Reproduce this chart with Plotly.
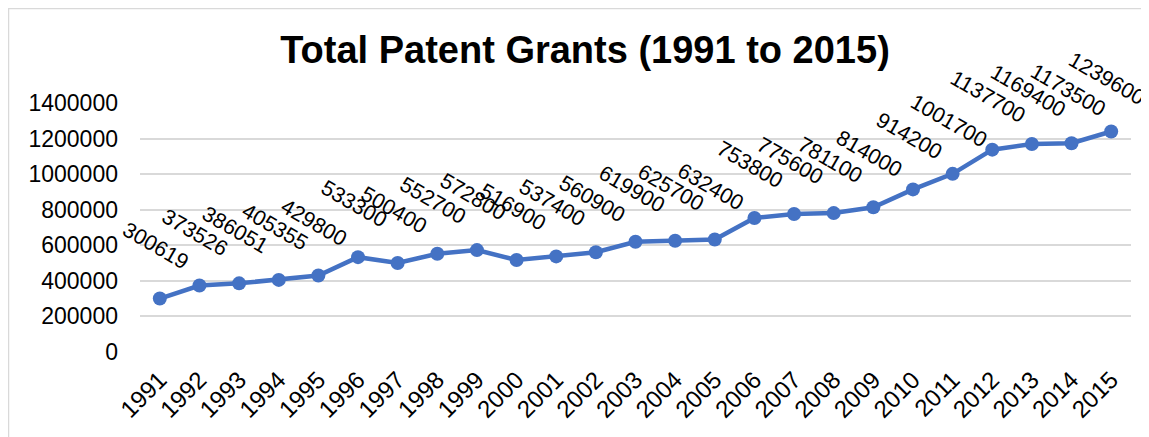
import plotly.graph_objects as go

years = [str(y) for y in range(1991, 2016)]
grants = [300619, 373526, 386051, 405355, 429800, 533300, 500400, 552700, 572800,
          516900, 537400, 560900, 619900, 625700, 632400, 753800, 775600, 781100,
          814000, 914200, 1001700, 1137700, 1169400, 1173500, 1239600]
y_ticks = [0, 200000, 400000, 600000, 800000, 1000000, 1200000, 1400000]

# page body has an 8px margin, so the figure starts at (8, 8)
W, H = 1141, 429
L, R, T, B = 132, 18, 95, 85
FONT = "Liberation Sans, Arial, sans-serif"

fig = go.Figure()
fig.add_trace(go.Scatter(
    x=years, y=grants, mode="lines+markers",
    line=dict(color="#4472C4", width=4.5),
    marker=dict(color="#4472C4", size=14),
    hoverinfo="skip", showlegend=False,
))

for i, v in enumerate(grants):
    fig.add_annotation(
        x=i, y=v, text=str(v), showarrow=False, textangle=30,
        yshift=53, xshift=-4,
        font=dict(family=FONT, size=21.5, color="#000000"),
    )

pw = W - L - R
ph = H - T - B
fig.add_shape(type="rect", xref="paper", yref="paper",
              x0=(0.5 - L) / pw, x1=(W + 20 - L) / pw,
              y0=(-20 - B) / ph, y1=(H - 0.5 - B) / ph,
              line=dict(color="#d9d9d9", width=1.5), layer="below")

fig.update_layout(
    width=W, height=H,
    margin=dict(l=L, r=R, t=T, b=B),
    paper_bgcolor="white", plot_bgcolor="white",
    title=dict(text="<b>Total Patent Grants (1991 to 2015)</b>",
               x=577 / W, xanchor="center", y=1 - 42 / H, yanchor="middle",
               font=dict(family=FONT, size=38, color="#000000")),
    xaxis=dict(type="category", range=[-0.5, 24.5], showgrid=False, showline=False,
               zeroline=False, tickangle=-45, ticks="", automargin=False,
               ticklabelstandoff=8,
               tickfont=dict(family=FONT, size=24, color="#000000")),
    yaxis=dict(range=[0, 1400000], tickvals=y_ticks, ticktext=[str(t) for t in y_ticks],
               showgrid=True, gridcolor="#d9d9d9", gridwidth=1.5, zeroline=False,
               showline=False, ticks="", ticklabelstandoff=21, automargin=False,
               tickfont=dict(family=FONT, size=23, color="#000000")),
)

fig.write_html("out.html")
